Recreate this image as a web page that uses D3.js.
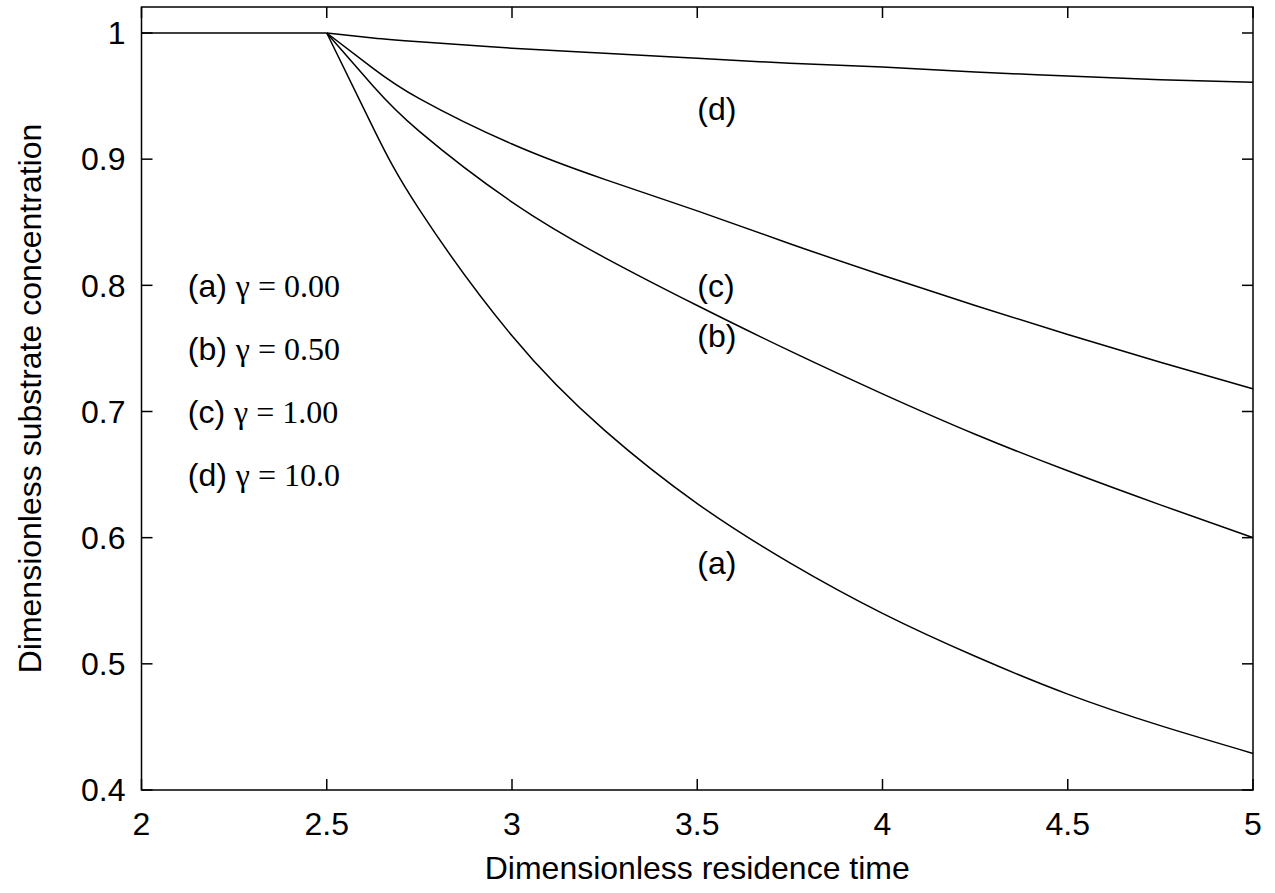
<!DOCTYPE html>
<html>
<head>
<meta charset="utf-8">
<script src="https://cdn.jsdelivr.net/npm/d3@7"></script>
<style>
  body { margin: 0; background: #fff; }
  svg { display: block; }
  text { font-family: "Liberation Sans", Arial, sans-serif; }
</style>
</head>
<body>
<svg id="chart"></svg>
<script>
// washout plateau, before the curves split off
var flatTimes = [2, 2.5];
var flatValues = [1, 1];

// residence time grid for the curves
var times = [2.5, 2.625, 2.75, 3, 3.25, 3.5, 3.75, 4, 4.25, 4.5, 4.75, 5];

// substrate concentration for each gamma
var curveA = [1, 0.925, 0.860, 0.760, 0.685, 0.627, 0.580, 0.540, 0.506, 0.476, 0.451, 0.429];
var curveB = [1, 0.958, 0.922, 0.866, 0.822, 0.784, 0.748, 0.714, 0.682, 0.653, 0.626, 0.600];
var curveC = [1, 0.972, 0.948, 0.912, 0.884, 0.859, 0.833, 0.808, 0.784, 0.761, 0.739, 0.718];
var curveD = [1, 0.996, 0.993, 0.988, 0.984, 0.980, 0.976, 0.973, 0.969, 0.966, 0.963, 0.961];

var xTicks = [2, 2.5, 3, 3.5, 4, 4.5, 5];
var yTicks = [0.4, 0.5, 0.6, 0.7, 0.8, 0.9, 1];

var legendNames = ["(a)", "(b)", "(c)", "(d)"];
var legendGammas = ["0.00", "0.50", "1.00", "10.0"];
var legendY = [0.8, 0.75, 0.7, 0.65];

// curve labels placed on the plot
var labelNames = ["(a)", "(b)", "(c)", "(d)"];
var labelX = [3.5, 3.5, 3.5, 3.5];
var labelY = [0.58, 0.76, 0.8, 0.94];

var W = 1275, H = 893;
var margin = {top: 7, right: 22, bottom: 103, left: 141.5};
var width = W - margin.left - margin.right;
var height = H - margin.top - margin.bottom;
var fs = 32;

var svg = d3.select("#chart")
    .attr("width", W)
    .attr("height", H);

var g = svg.append("g")
    .attr("transform", "translate(" + margin.left + "," + margin.top + ")");

var x = d3.scaleLinear().domain([2, 5]).range([0, width]);
var y = d3.scaleLinear().domain([0.4, 1.0206]).range([height, 0]);

// frame
g.append("rect")
    .attr("width", width)
    .attr("height", height)
    .attr("fill", "none")
    .attr("stroke", "#000")
    .attr("stroke-width", 1.5);

// ticks, pointing inward on all four sides
var tl = 11;
g.append("g").selectAll("line").data(xTicks).join("line")
    .attr("x1", d => x(d)).attr("x2", d => x(d))
    .attr("y1", height).attr("y2", height - tl)
    .attr("stroke", "#000").attr("stroke-width", 1.5);
g.append("g").selectAll("line").data(xTicks).join("line")
    .attr("x1", d => x(d)).attr("x2", d => x(d))
    .attr("y1", 0).attr("y2", tl)
    .attr("stroke", "#000").attr("stroke-width", 1.5);
g.append("g").selectAll("line").data(yTicks).join("line")
    .attr("x1", 0).attr("x2", tl)
    .attr("y1", d => y(d)).attr("y2", d => y(d))
    .attr("stroke", "#000").attr("stroke-width", 1.5);
g.append("g").selectAll("line").data(yTicks).join("line")
    .attr("x1", width).attr("x2", width - tl)
    .attr("y1", d => y(d)).attr("y2", d => y(d))
    .attr("stroke", "#000").attr("stroke-width", 1.5);

// tick labels
g.append("g").selectAll("text").data(xTicks).join("text")
    .attr("x", d => x(d))
    .attr("y", height + 45)
    .attr("text-anchor", "middle")
    .attr("font-size", fs)
    .text(d => d3.format("~g")(d));
g.append("g").selectAll("text").data(yTicks).join("text")
    .attr("x", -16)
    .attr("y", d => y(d))
    .attr("dy", "0.35em")
    .attr("text-anchor", "end")
    .attr("font-size", fs)
    .text(d => d3.format("~g")(d));

// axis titles
g.append("text")
    .attr("x", width / 2)
    .attr("y", height + 89)
    .attr("text-anchor", "middle")
    .attr("font-size", fs)
    .text("Dimensionless residence time");
g.append("text")
    .attr("transform", "rotate(-90)")
    .attr("x", -height / 2)
    .attr("y", -margin.left + 41)
    .attr("text-anchor", "middle")
    .attr("font-size", fs)
    .text("Dimensionless substrate concentration");

// plateau, then the four curves from the washout point
g.append("path")
    .datum(flatValues)
    .attr("fill", "none")
    .attr("stroke", "#000")
    .attr("stroke-width", 1.5)
    .attr("d", d3.line().x((d, i) => x(flatTimes[i])).y(d => y(d)));

var line = d3.line()
    .x((d, i) => x(times[i]))
    .y(d => y(d))
    .curve(d3.curveNatural);

[curveA, curveB, curveC, curveD].forEach(function(s) {
  g.append("path")
      .datum(s)
      .attr("fill", "none")
      .attr("stroke", "#000")
      .attr("stroke-width", 1.5)
      .attr("d", line);
});

// legend block
var leg = g.append("g");
legendNames.forEach(function(n, i) {
  var t = leg.append("text")
      .attr("x", x(2.125))
      .attr("y", y(legendY[i]))
      .attr("dy", "0.35em")
      .attr("font-size", fs);
  t.append("tspan").text(n + " ");
  t.append("tspan")
      .attr("font-family", "'Liberation Serif', 'Times New Roman', serif")
      .text("\u03b3 = " + legendGammas[i]);
});

// curve labels
g.append("g").selectAll("text").data(labelNames).join("text")
    .attr("x", (d, i) => x(labelX[i]))
    .attr("y", (d, i) => y(labelY[i]))
    .attr("dy", "0.35em")
    .attr("font-size", fs)
    .text(d => d);
</script>
</body>
</html>
